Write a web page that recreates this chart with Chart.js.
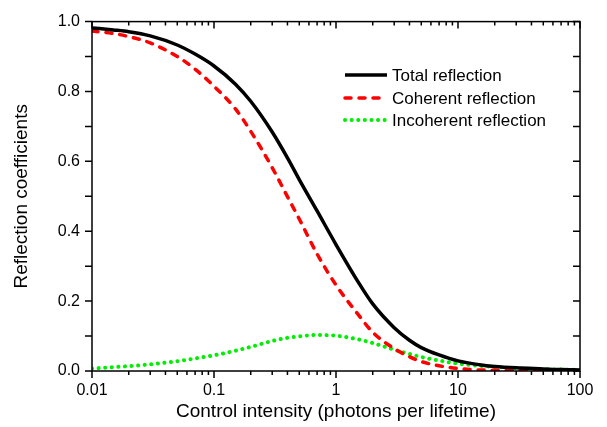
<!DOCTYPE html>
<html>
<head>
<meta charset="utf-8">
<script src="https://cdn.jsdelivr.net/npm/chart.js@4"></script>
<style>
  html, body { margin: 0; padding: 0; background: #ffffff; }
  #wrap { width: 607px; height: 427px; position: relative; }
</style>
</head>
<body>
<div id="wrap"><canvas id="c" width="607" height="427"></canvas></div>
<script>
// ---- data ----
const controlIntensity = [0.01, 0.015, 0.02, 0.03, 0.05, 0.07, 0.1, 0.15, 0.2, 0.3, 0.4, 0.5, 0.7, 1, 1.5, 2, 3, 4, 5, 7, 10, 15, 20, 30, 50, 70, 100];
const totalReflection = [0.982, 0.976, 0.971, 0.959, 0.933, 0.907, 0.873, 0.821, 0.772, 0.684, 0.610, 0.548, 0.458, 0.362, 0.258, 0.192, 0.124, 0.088, 0.067, 0.046, 0.029, 0.018, 0.013, 0.009, 0.006, 0.004, 0.003];
const coherentReflection = [0.973, 0.966, 0.957, 0.939, 0.900, 0.864, 0.815, 0.750, 0.686, 0.582, 0.499, 0.435, 0.335, 0.246, 0.164, 0.111, 0.064, 0.041, 0.027, 0.015, 0.007, 0.003, 0.002, 0.001, 0.0005, 0.0003, 0.0002];
const incoherentReflection = [0.007, 0.011, 0.014, 0.019, 0.028, 0.036, 0.045, 0.058, 0.069, 0.086, 0.095, 0.099, 0.103, 0.101, 0.091, 0.080, 0.061, 0.049, 0.040, 0.030, 0.021, 0.015, 0.012, 0.008, 0.005, 0.004, 0.003];
const seriesLabels = ['Total reflection', 'Coherent reflection', 'Incoherent reflection'];
const xTickLabels = ['0.01', '0.1', '1', '10', '100'];
const yTickLabels = ['0.0', '0.2', '0.4', '0.6', '0.8', '1.0'];
const xTitle = 'Control intensity (photons per lifetime)';
const yTitle = 'Reflection coefficients';

const FONT = '"Liberation Sans", Arial, Helvetica, sans-serif';

function pts(ys) { return controlIntensity.map((x, i) => ({ x: x, y: ys[i] })); }

const xMajor = xTickLabels.map(Number);
const xMinor = [];
for (let d = 0; d < xMajor.length - 1; d++) {
  for (let k = 2; k <= 9; k++) xMinor.push(xMajor[d] * k);
}
const yMajor = yTickLabels.map(Number);
const yMinor = [];
for (let i = 0; i < yMajor.length - 1; i++) yMinor.push((yMajor[i] + yMajor[i + 1]) / 2);

const framePlugin = {
  id: 'frame',
  afterDatasetsDraw(chart) {
    const ctx = chart.ctx;
    const a = chart.chartArea;
    const xs = chart.scales.x, ys = chart.scales.y;
    ctx.save();
    ctx.strokeStyle = '#000';
    ctx.lineWidth = 1.5;
    ctx.strokeRect(a.left, a.top, a.right - a.left, a.bottom - a.top);
    const MAJ = 7, MIN = 4;
    ctx.beginPath();
    const xt = (v, len) => {
      const p = xs.getPixelForValue(v);
      ctx.moveTo(p, a.bottom); ctx.lineTo(p, a.bottom + len);
      ctx.moveTo(p, a.top); ctx.lineTo(p, a.top + len);
    };
    const yt = (v, len) => {
      const p = ys.getPixelForValue(v);
      ctx.moveTo(a.left, p); ctx.lineTo(a.left - len, p);
      ctx.moveTo(a.right, p); ctx.lineTo(a.right - len, p);
    };
    xMajor.forEach(v => xt(v, MAJ));
    xMinor.forEach(v => xt(v, MIN));
    yMajor.forEach(v => yt(v, MAJ));
    yMinor.forEach(v => yt(v, MAJ));
    ctx.stroke();

    // legend
    const lx0 = 345, lx1 = 387, tx = 392;
    const rows = [75, 98, 120];
    ctx.font = '17px ' + FONT;
    ctx.textBaseline = 'middle';
    ctx.textAlign = 'left';
    chart.data.datasets.forEach((ds, i) => {
      ctx.save();
      ctx.strokeStyle = ds.borderColor;
      ctx.lineWidth = ds.borderWidth;
      ctx.lineCap = ds.borderCapStyle || 'butt';
      ctx.setLineDash(ds.borderDash || []);
      ctx.beginPath();
      ctx.moveTo(lx0, rows[i]); ctx.lineTo(lx1, rows[i]);
      ctx.stroke();
      ctx.restore();
      ctx.fillStyle = '#000';
      ctx.fillText(ds.label, tx, rows[i] + 1);
    });
    ctx.restore();
  }
};

new Chart(document.getElementById('c'), {
  type: 'line',
  data: {
    datasets: [
      { label: seriesLabels[0], data: pts(totalReflection), borderColor: '#000000', borderWidth: 3.5, pointRadius: 0, cubicInterpolationMode: 'monotone', borderCapStyle: 'butt', fill: false },
      { label: seriesLabels[1], data: pts(coherentReflection), borderColor: '#ff0000', borderWidth: 3.5, borderDash: [6, 8], borderCapStyle: 'round', pointRadius: 0, cubicInterpolationMode: 'monotone', fill: false },
      { label: seriesLabels[2], data: pts(incoherentReflection), borderColor: '#00ee00', borderWidth: 4, borderDash: [0.1, 6.5], borderCapStyle: 'round', pointRadius: 0, cubicInterpolationMode: 'monotone', fill: false }
    ]
  },
  options: {
    responsive: false,
    animation: false,
    devicePixelRatio: 1,
    layout: { padding: { top: 11, right: 27, left: 0, bottom: 0 } },
    plugins: { legend: { display: false }, tooltip: { enabled: false } },
    scales: {
      x: {
        type: 'logarithmic', min: 0.01, max: 100,
        afterBuildTicks(scale) { scale.ticks = xMajor.map(v => ({ value: v, major: true })); },
        afterFit(scale) { scale.height = 56; },
        ticks: {
          autoSkip: false, maxRotation: 0, padding: 10,
          color: '#000', font: { family: FONT, size: 16 },
          callback(value) { const i = xMajor.indexOf(value); return i >= 0 ? xTickLabels[i] : ''; }
        },
        grid: { display: false, drawTicks: false },
        border: { display: false },
        title: { display: true, text: xTitle, color: '#000', font: { family: FONT, size: 19 }, padding: { top: 0, bottom: 4 } }
      },
      y: {
        type: 'linear', min: 0, max: 1,
        afterBuildTicks(scale) { scale.ticks = yMajor.map(v => ({ value: v })); },
        afterFit(scale) { scale.width = 92; },
        ticks: {
          padding: 12, color: '#000', font: { family: FONT, size: 16 },
          callback(value) { const i = yMajor.findIndex(v => Math.abs(v - value) < 1e-9); return i >= 0 ? yTickLabels[i] : ''; }
        },
        grid: { display: false, drawTicks: false },
        border: { display: false },
        title: { display: true, text: yTitle, color: '#000', font: { family: FONT, size: 19 }, padding: { top: 10, bottom: 0 } }
      }
    }
  },
  plugins: [framePlugin]
});
</script>
</body>
</html>
